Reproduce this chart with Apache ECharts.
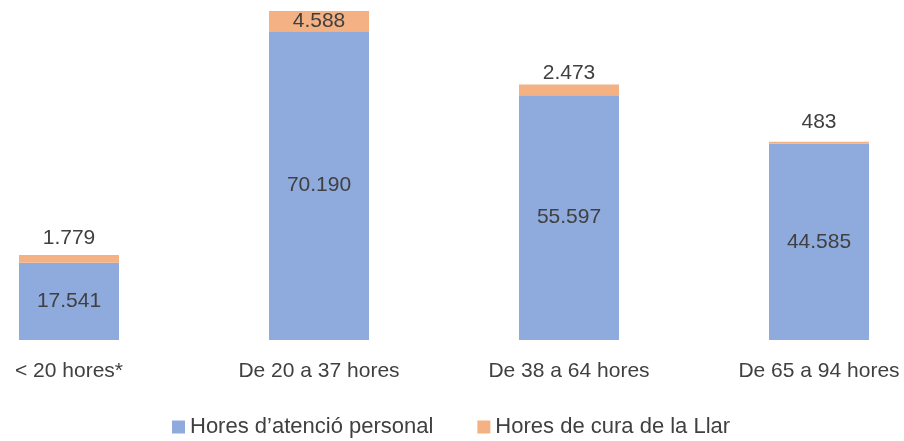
<!DOCTYPE html>
<html>
<head>
<meta charset="utf-8">
<script src="https://cdn.jsdelivr.net/npm/echarts@6/dist/echarts.min.js"></script>
<style>
  html, body { margin: 0; padding: 0; background: #ffffff; }
  #chart { width: 904px; height: 441px; }
</style>
</head>
<body>
<div id="chart"></div>
<script>
// Hours per weekly-time band, split by type of care
const categories = ['< 20 hores*', 'De 20 a 37 hores', 'De 38 a 64 hores', 'De 65 a 94 hores'];
const personalHours = [17541, 70190, 55597, 44585];
const homeHours = [1779, 4588, 2473, 483];
const seriesNames = ["Hores d\u2019atenció personal", 'Hores de cura de la Llar'];

// Label placement for the thin top segments
const homeLabelPlacement = [
  { position: 'top', distance: 6 },
  { position: 'inside', distance: 0 },
  { position: 'top', distance: 1 },
  { position: 'top', distance: 9 }
];

const fmt = v => v.toLocaleString('de-DE');
const textColor = '#404040';
const font = 'Liberation Sans, Arial, sans-serif';

const chart = echarts.init(document.getElementById('chart'), null, { renderer: 'canvas' });

chart.setOption({
  animation: false,
  backgroundColor: '#ffffff',
  // ticks sit on the bar centres, bars spill half a width past the grid ends
  grid: { left: 69, right: 85, top: 10, bottom: 101, containLabel: false },
  xAxis: {
    type: 'category',
    data: categories,
    boundaryGap: false,
    axisLine: { show: false },
    axisTick: { show: false },
    splitLine: { show: false },
    axisLabel: { color: textColor, fontSize: 21, fontFamily: font, margin: 21, interval: 0 }
  },
  yAxis: {
    type: 'value',
    min: 0,
    max: 75000,
    show: false,
    splitLine: { show: false }
  },
  legend: {
    left: 167,
    top: 411,
    icon: 'rect',
    itemWidth: 13,
    itemHeight: 13,
    itemGap: 44,
    textStyle: { color: textColor, fontSize: 22, fontFamily: font },
    data: seriesNames
  },
  series: [
    {
      name: seriesNames[0],
      type: 'bar',
      stack: 'total',
      barWidth: 100,
      clip: false,
      itemStyle: { color: '#8FAADC' },
      label: {
        show: true,
        position: 'inside',
        color: textColor,
        fontSize: 21,
        fontFamily: font,
        formatter: p => fmt(p.value)
      },
      data: personalHours
    },
    {
      name: seriesNames[1],
      type: 'bar',
      stack: 'total',
      barWidth: 100,
      clip: false,
      itemStyle: { color: '#F4B183' },
      label: {
        show: true,
        color: textColor,
        fontSize: 21,
        fontFamily: font,
        formatter: p => fmt(p.value)
      },
      data: homeHours.map((v, i) => ({ value: v, label: homeLabelPlacement[i] }))
    }
  ]
});
</script>
</body>
</html>
